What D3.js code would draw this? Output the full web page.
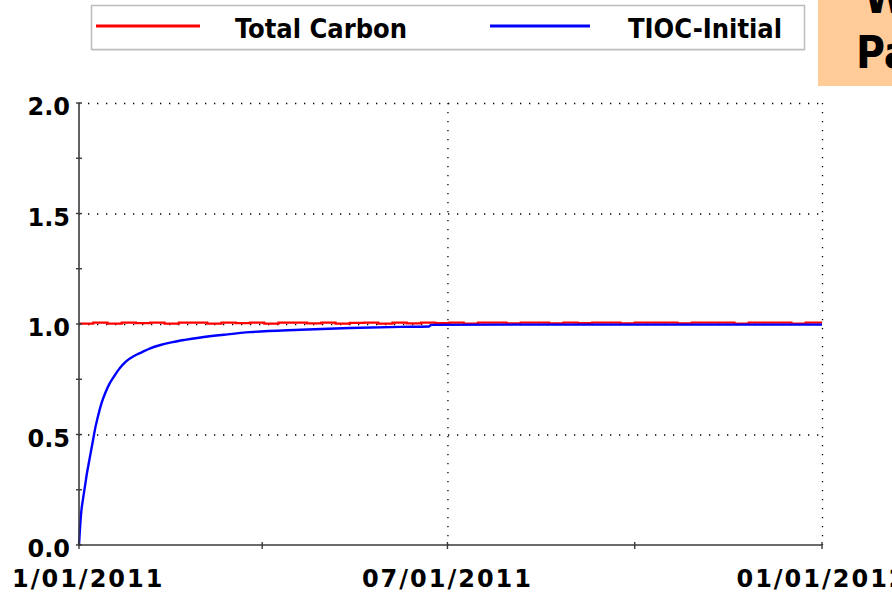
<!DOCTYPE html>
<html>
<head>
<meta charset="utf-8">
<script src="https://cdn.jsdelivr.net/npm/d3@7"></script>
<style>
  html, body { margin: 0; padding: 0; background: #fff; }
  svg { display: block; }
</style>
</head>
<body>
<svg id="chart" width="892" height="600"></svg>
<script>
// ---- data ----
const seriesNames = ["Total Carbon", "TIOC-Initial"];
const seriesColors = ["#ff0000", "#0000ff"];

const totalCarbonDates = ["2011-01-01","2011-01-08","2011-01-15","2011-01-22","2011-01-29","2011-02-05","2011-02-12","2011-02-19","2011-02-26","2011-03-05","2011-03-12","2011-03-19","2011-03-26","2011-04-02","2011-04-09","2011-04-16","2011-04-23","2011-04-30","2011-05-07","2011-05-14","2011-05-21","2011-05-28","2011-06-04","2011-06-11","2011-06-18","2011-06-25","2011-07-02","2011-07-09","2011-07-16","2011-07-23","2011-07-30","2011-08-06","2011-08-13","2011-08-20","2011-08-27","2011-09-03","2011-09-10","2011-09-17","2011-09-24","2011-10-01","2011-10-08","2011-10-15","2011-10-22","2011-10-29","2011-11-05","2011-11-12","2011-11-19","2011-11-26","2011-12-03","2011-12-10","2011-12-17","2011-12-24","2012-01-01"];
const totalCarbonValues = [1.002,1.006,1.002,1.006,1.004,1.006,1.002,1.006,1.006,1.002,1.006,1.004,1.006,1.002,1.006,1.006,1.003,1.006,1.002,1.005,1.006,1.002,1.006,1.003,1.006,1.004,1.006,1.002,1.006,1.006,1.003,1.006,1.006,1.003,1.006,1.004,1.006,1.006,1.003,1.006,1.006,1.006,1.003,1.006,1.006,1.006,1.002,1.006,1.006,1.006,1.002,1.006,1.006];

const tiocDates = ["2011-01-01","2011-01-02","2011-01-03","2011-01-04","2011-01-05","2011-01-06","2011-01-07","2011-01-08","2011-01-09","2011-01-10","2011-01-12","2011-01-14","2011-01-16","2011-01-18","2011-01-21","2011-01-24","2011-01-28","2011-02-01","2011-02-05","2011-02-10","2011-02-16","2011-02-22","2011-03-01","2011-03-15","2011-03-26","2011-04-20","2011-05-14","2011-06-08","2011-06-22","2011-06-23","2011-08-01","2011-10-01","2011-12-01","2012-01-01"];
const tiocValues = [0.0,0.14,0.21,0.27,0.33,0.38,0.43,0.48,0.53,0.57,0.64,0.69,0.73,0.76,0.80,0.83,0.855,0.873,0.89,0.905,0.918,0.928,0.938,0.953,0.963,0.974,0.982,0.987,0.989,0.996,0.997,0.997,0.997,0.997];

const yTickValues = [0.0, 0.5, 1.0, 1.5, 2.0];
const yTickLabels = ["0.0", "0.5", "1.0", "1.5", "2.0"];
const yMinorTicks = [0.25, 0.75, 1.25, 1.75];
const xTickDates = ["2011-01-01", "2011-07-01", "2012-01-01"];
const xTickLabels = ["1/01/2011", "07/01/2011", "01/01/2012"];
const xMinorDates = ["2011-04-01", "2011-10-01"];
const sideBoxLines = ["W", "Pa"];

// ---- drawing ----
const parse = d3.utcParse("%Y-%m-%d");
const svg = d3.select("#chart");
const mLeft = 79, mRight = 822, mTop = 103, mBottom = 545;

const x = d3.scaleUtc().domain([parse("2011-01-01"), parse("2012-01-01")]).range([mLeft, mRight]);
const y = d3.scaleLinear().domain([0, 2]).range([mBottom, mTop]);

const tickFont = "'DejaVu Sans', Verdana, sans-serif";

// grid (dotted)
const grid = svg.append("g");
grid.selectAll("line.h").data(yTickValues.filter(v => v > 0)).enter().append("line")
  .attr("x1", mLeft).attr("x2", mRight)
  .attr("y1", d => y(d) + 0.5).attr("y2", d => y(d) + 0.5)
  .attr("stroke", "#000").attr("stroke-width", 1.3).attr("stroke-dasharray", "1.3,7.7");
grid.selectAll("line.v").data(xTickDates.slice(1)).enter().append("line")
  .attr("x1", d => x(parse(d)) + 0.5).attr("x2", d => x(parse(d)) + 0.5)
  .attr("y1", mTop).attr("y2", mBottom)
  .attr("stroke", "#000").attr("stroke-width", 1.3).attr("stroke-dasharray", "1.3,7.7");

// lines
const tcData = totalCarbonDates.map((d, i) => [parse(d), totalCarbonValues[i]]);
const tiData = tiocDates.map((d, i) => [parse(d), tiocValues[i]]);
svg.append("path").datum(tcData)
  .attr("d", d3.line().x(d => x(d[0])).y(d => y(d[1])).curve(d3.curveStepAfter))
  .attr("fill", "none").attr("stroke", seriesColors[0]).attr("stroke-width", 2.2);
svg.append("path").datum(tiData)
  .attr("d", d3.line().x(d => x(d[0])).y(d => y(d[1])).curve(d3.curveMonotoneX))
  .attr("fill", "none").attr("stroke", seriesColors[1]).attr("stroke-width", 2.4);

// axes
const axisColor = "#3a3a3a";
svg.append("line").attr("x1", mLeft).attr("x2", mLeft).attr("y1", mTop).attr("y2", mBottom + 1)
  .attr("stroke", axisColor).attr("stroke-width", 1.6);
svg.append("line").attr("x1", mLeft).attr("x2", mRight).attr("y1", mBottom).attr("y2", mBottom)
  .attr("stroke", axisColor).attr("stroke-width", 1.6);

// y ticks (crossing)
svg.selectAll("line.yt").data(yTickValues.concat(yMinorTicks)).enter().append("line")
  .attr("x1", mLeft - 3).attr("x2", mLeft + 3)
  .attr("y1", d => y(d)).attr("y2", d => y(d))
  .attr("stroke", axisColor).attr("stroke-width", 1.4);
// x ticks (crossing)
svg.selectAll("line.xt").data(xTickDates.concat(xMinorDates)).enter().append("line")
  .attr("x1", d => x(parse(d))).attr("x2", d => x(parse(d)))
  .attr("y1", mBottom - 3).attr("y2", mBottom + 4)
  .attr("stroke", axisColor).attr("stroke-width", 1.4);

// y labels
svg.selectAll("text.yl").data(yTickValues).enter().append("text")
  .attr("x", mLeft - 9).attr("y", d => y(d) + 12)
  .attr("text-anchor", "end")
  .attr("font-family", tickFont).attr("font-weight", "bold").attr("font-size", 24)
  .attr("fill", "#000")
  .text((d, i) => yTickLabels[i]);

// x labels
svg.selectAll("text.xl").data(xTickDates).enter().append("text")
  .attr("x", d => x(parse(d))).attr("y", 587)
  .attr("text-anchor", "middle")
  .attr("font-family", tickFont).attr("font-weight", "bold").attr("font-size", 24)
  .attr("letter-spacing", 2)
  .attr("fill", "#000")
  .text((d, i) => xTickLabels[i])
  .each(function() {
    const b = this.getBBox();
    if (b.x < 12) d3.select(this).attr("x", +d3.select(this).attr("x") + (12 - b.x));
  });

// legend
const lg = svg.append("g");
lg.append("rect").attr("x", 91.5).attr("y", 5.5).attr("width", 713).attr("height", 44)
  .attr("fill", "#fff").attr("stroke", "#bdbdbd").attr("stroke-width", 1.5);
lg.append("line").attr("x1", 92).attr("x2", 805).attr("y1", 50.5).attr("y2", 50.5)
  .attr("stroke", "#e0e0e0").attr("stroke-width", 1);
const legendItems = [
  { lx1: 96, lx2: 200, tx: 235 },
  { lx1: 490, lx2: 590, tx: 628 }
];
legendItems.forEach((it, i) => {
  lg.append("line").attr("x1", it.lx1).attr("x2", it.lx2).attr("y1", 26).attr("y2", 26)
    .attr("stroke", seriesColors[i]).attr("stroke-width", 3);
  lg.append("text").attr("x", it.tx).attr("y", 38)
    .attr("font-family", "'DejaVu Sans Condensed', 'DejaVu Sans', sans-serif")
    .attr("font-stretch", "condensed")
    .attr("font-weight", "bold").attr("font-size", 27).attr("fill", "#000")
    .text(seriesNames[i]);
});

// side orange box (clipped at the page edge, as in the reference)
svg.append("rect").attr("x", 818).attr("y", 0).attr("width", 74).attr("height", 86)
  .attr("fill", "#ffcc99");
svg.append("text").attr("x", 864).attr("y", 13)
  .attr("font-family", "'DejaVu Sans Condensed', 'DejaVu Sans', sans-serif")
  .attr("font-stretch", "condensed").attr("font-weight", "bold")
  .attr("font-size", 44).attr("fill", "#000").text(sideBoxLines[0]);
svg.append("text").attr("x", 856).attr("y", 68)
  .attr("font-family", "'DejaVu Sans Condensed', 'DejaVu Sans', sans-serif")
  .attr("font-stretch", "condensed").attr("font-weight", "bold")
  .attr("font-size", 44).attr("fill", "#000").text(sideBoxLines[1]);
</script>
</body>
</html>
